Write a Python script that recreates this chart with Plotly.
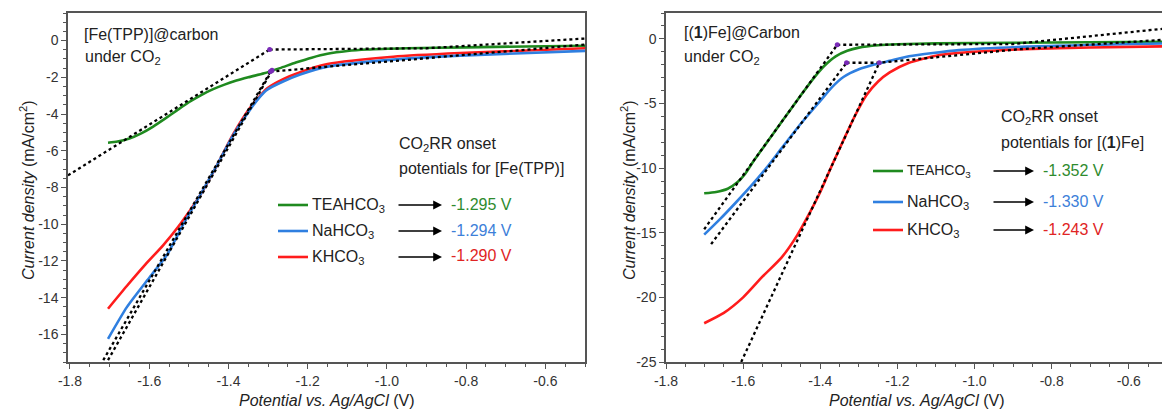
import plotly.graph_objects as go

W, H = 1162, 412

# ---------------- data: left panel  [Fe(TPP)]@carbon ----------------
left_tea_x = [-1.704, -1.68, -1.65, -1.62, -1.59, -1.56, -1.53, -1.50, -1.47, -1.44, -1.41,
              -1.38, -1.35, -1.31, -1.27, -1.23, -1.19, -1.15, -1.10, -1.05, -0.95, -0.80,
              -0.65, -0.499]
left_tea_y = [-5.56, -5.5, -5.33, -5.05, -4.68, -4.25, -3.8, -3.36, -2.98, -2.66, -2.4,
              -2.18, -2.0, -1.78, -1.5, -1.2, -0.93, -0.72, -0.57, -0.49, -0.42, -0.37,
              -0.32, -0.28]

left_na_x = [-1.704, -1.656, -1.598, -1.555, -1.514, -1.471, -1.428, -1.388, -1.345, -1.320,
             -1.302, -1.262, -1.219, -1.150, -0.984, -0.815, -0.499]
left_na_y = [-16.24, -14.50, -12.86, -11.66, -10.0, -8.4, -6.75, -5.15, -3.75, -3.05,
             -2.67, -2.23, -1.85, -1.42, -1.04, -0.82, -0.56]

left_k_x = [-1.704, -1.656, -1.61, -1.565, -1.522, -1.471, -1.428, -1.388, -1.345, -1.302,
            -1.262, -1.219, -1.150, -0.984, -0.815, -0.499]
left_k_y = [-14.60, -13.35, -12.2, -11.15, -10.0, -8.4, -6.75, -5.1, -3.65, -2.6,
            -2.1, -1.72, -1.28, -0.88, -0.68, -0.42]

# tangent / baseline construction lines (left)
left_tea_tan_x = [-1.805, -1.296]
left_tea_tan_y = [-7.34, -0.49]
left_tea_base_x = [-1.296, -0.90, -0.50]
left_tea_base_y = [-0.49, -0.42, 0.11]
left_na_tan_x = [-1.716, -1.294]
left_na_tan_y = [-17.4, -1.69]
left_k_tan_x = [-1.704, -1.290]
left_k_tan_y = [-17.4, -1.62]
left_low_base_x = [-1.294, -0.50]
left_low_base_y = [-1.69, -0.22]
left_onset_x = [-1.296, -1.294, -1.290]
left_onset_y = [-0.49, -1.69, -1.62]

# ---------------- data: right panel  [(1)Fe]@Carbon ----------------
right_tea_x = [-1.701, -1.67, -1.64, -1.615, -1.595, -1.575, -1.55, -1.50, -1.45, -1.42,
               -1.39, -1.36, -1.33, -1.30, -1.25, -1.20, -1.10, -0.90, -0.514]
right_tea_y = [-11.95, -11.85, -11.6, -11.1, -10.45, -9.55, -8.5, -6.42, -4.35, -3.15,
               -2.1, -1.35, -0.92, -0.68, -0.5, -0.42, -0.35, -0.3, -0.23]

right_na_x = [-1.701, -1.66, -1.62, -1.58, -1.54, -1.50, -1.45, -1.40, -1.37, -1.34,
              -1.30, -1.26, -1.22, -1.17, -1.04, -0.865, -0.514]
right_na_y = [-15.15, -13.95, -12.7, -11.4, -10.0, -8.45, -6.55, -4.8, -3.75, -2.95,
              -2.35, -1.98, -1.7, -1.35, -0.87, -0.6, -0.36]

right_k_x = [-1.701, -1.65, -1.60, -1.55, -1.50, -1.46, -1.43, -1.40, -1.37, -1.34,
             -1.31, -1.28, -1.25, -1.22, -1.17, -1.10, -1.0, -0.87, -0.7, -0.514]
right_k_y = [-22.0, -21.2, -20.0, -18.4, -16.9, -15.2, -13.6, -11.85, -9.8, -7.85,
             -5.95, -4.35, -3.3, -2.6, -1.85, -1.3, -1.0, -0.8, -0.67, -0.58]

right_tea_tan_x = [-1.701, -1.356]
right_tea_tan_y = [-14.73, -0.46]
right_tea_base_x = [-1.356, -0.90, -0.514]
right_tea_base_y = [-0.46, -0.40, 0.77]
right_na_tan_x = [-1.683, -1.332]
right_na_tan_y = [-15.88, -1.85]
right_k_tan_x = [-1.605, -1.247]
right_k_tan_y = [-25.0, -1.86]
right_low_base_x = [-1.332, -1.247, -0.883, -0.514]
right_low_base_y = [-1.85, -1.85, -0.80, -0.08]
right_onset_x = [-1.356, -1.332, -1.247]
right_onset_y = [-0.46, -1.85, -1.85]

# ticks
x_tick_vals = [-1.8, -1.6, -1.4, -1.2, -1.0, -0.8, -0.6]
left_y_tick_vals = [0, -2, -4, -6, -8, -10, -12, -14, -16]
right_y_tick_vals = [0, -5, -10, -15, -20, -25]

series_names = ["TEAHCO<sub>3</sub>", "NaHCO<sub>3</sub>", "KHCO<sub>3</sub>"]
left_onsets = ["-1.295 V", "-1.294 V", "-1.290 V"]
right_onsets = ["-1.352 V", "-1.330 V", "-1.243 V"]

GREEN = "#1f8a1f"
BLUE = "#2f7fe0"
RED = "#ff1c1c"
PURPLE = "#7a2bb8"
VAL_COLORS = ["#2e8b2e", "#3d7fd9", "#e02424"]
FONT = "Liberation Sans, Arial, sans-serif"
AX = "#555555"

fig = go.Figure()


def curve(x, y, color, xa, ya):
    fig.add_trace(go.Scatter(x=x, y=y, mode="lines", xaxis=xa, yaxis=ya,
                             line=dict(color=color, width=2.6, shape="spline", smoothing=0.6),
                             showlegend=False, hoverinfo="skip"))


def dotted(x, y, xa, ya):
    fig.add_trace(go.Scatter(x=x, y=y, mode="lines", xaxis=xa, yaxis=ya,
                             line=dict(color="black", width=2.3, dash="3px,3px"),
                             showlegend=False, hoverinfo="skip"))


# left panel
curve(left_tea_x, left_tea_y, GREEN, "x", "y")
curve(left_k_x, left_k_y, RED, "x", "y")
curve(left_na_x, left_na_y, BLUE, "x", "y")
for xs, ys in [(left_tea_tan_x, left_tea_tan_y), (left_tea_base_x, left_tea_base_y),
               (left_na_tan_x, left_na_tan_y), (left_k_tan_x, left_k_tan_y),
               (left_low_base_x, left_low_base_y)]:
    dotted(xs, ys, "x", "y")
fig.add_trace(go.Scatter(x=left_onset_x, y=left_onset_y, mode="markers", xaxis="x", yaxis="y",
                         marker=dict(color=PURPLE, size=5), showlegend=False, hoverinfo="skip"))

# right panel
curve(right_tea_x, right_tea_y, GREEN, "x2", "y2")
curve(right_na_x, right_na_y, BLUE, "x2", "y2")
curve(right_k_x, right_k_y, RED, "x2", "y2")
for xs, ys in [(right_tea_tan_x, right_tea_tan_y), (right_tea_base_x, right_tea_base_y),
               (right_na_tan_x, right_na_tan_y), (right_k_tan_x, right_k_tan_y),
               (right_low_base_x, right_low_base_y)]:
    dotted(xs, ys, "x2", "y2")
fig.add_trace(go.Scatter(x=right_onset_x, y=right_onset_y, mode="markers", xaxis="x2", yaxis="y2",
                         marker=dict(color=PURPLE, size=5), showlegend=False, hoverinfo="skip"))


def fmt(v):
    return f"{v:.1f}"


def xaxis_cfg(domain, rng):
    return dict(domain=domain, range=rng, showline=True, linecolor=AX, linewidth=1.5, mirror=True,
                ticks="outside", ticklen=5, tickwidth=1.3, tickcolor=AX,
                tickmode="array", tickvals=x_tick_vals, ticktext=[fmt(v) for v in x_tick_vals],
                minor=dict(tickmode="linear", tick0=-1.8, dtick=0.05, ticks="outside", ticklen=3,
                           tickwidth=1.2, tickcolor=AX, showgrid=False),
                showgrid=False, zeroline=False, automargin=False,
                tickfont=dict(family=FONT, size=14, color="#333"))


def yaxis_cfg(domain, rng, vals, minor_dt, mirror):
    return dict(domain=domain, range=rng, showline=True, linecolor=AX, linewidth=1.5, mirror=mirror,
                ticks="outside", ticklen=5, tickwidth=1.3, tickcolor=AX,
                tickmode="array", tickvals=vals, ticktext=[str(v) for v in vals],
                minor=dict(tickmode="linear", tick0=0, dtick=minor_dt, ticks="outside", ticklen=3,
                           tickwidth=1.2, tickcolor=AX, showgrid=False),
                showgrid=False, zeroline=False, automargin=False,
                tickfont=dict(family=FONT, size=14, color="#333"))


ydom = [1 - 362 / H, 1 - 13 / H]
fig.update_layout(
    width=W, height=H, margin=dict(l=0, r=0, t=0, b=0),
    paper_bgcolor="white", plot_bgcolor="white",
    font=dict(family=FONT, color="#222"),
    xaxis=dict(xaxis_cfg([68 / W, 585 / W], [-1.805, -0.5]), anchor="y"),
    yaxis=dict(yaxis_cfg(ydom, [-17.5, 1.5], left_y_tick_vals, 0.5, True), anchor="x"),
    xaxis2=dict(xaxis_cfg([666 / W, 1.0], [-1.8, -0.514]), anchor="y2"),
    yaxis2=dict(yaxis_cfg(ydom, [-25, 2], right_y_tick_vals, 1, False), anchor="x2"),
    showlegend=False,
)

ann = []
shapes = []


def px(x):
    return x / W


def py(y):
    return 1 - y / H


def text(x, y, t, size=16, anchor="left", color="#222", angle=0):
    ann.append(dict(x=px(x), y=py(y), xref="paper", yref="paper", text=t, showarrow=False,
                    xanchor=anchor, yanchor="middle", textangle=angle,
                    font=dict(family=FONT, size=size, color=color)))


# axis titles
text(326, 400, "<i>Potential vs. Ag/AgCl</i> (V)", anchor="center")
text(916, 400, "<i>Potential vs. Ag/AgCl</i> (V)", anchor="center")
text(27, 190, "<i>Current density</i> (mA/cm<sup>2</sup>)", anchor="center", angle=-90)
text(628, 190, "<i>Current density</i> (mA/cm<sup>2</sup>)", anchor="center", angle=-90)

# panel labels
text(82, 35, "[Fe(TPP)]@carbon")
text(83, 57, "under CO<sub>2</sub>")
text(682, 33, "[(<b>1</b>)Fe]@Carbon")
text(682, 57, "under CO<sub>2</sub>")

text(397, 145, "CO<sub>2</sub>RR onset")
text(397, 168, "potentials for [Fe(TPP)]")
text(999, 117, "CO<sub>2</sub>RR onset")
text(999, 143, "potentials for [(<b>1</b>)Fe]")

colors = [GREEN, BLUE, RED]


def legend_block(line_x0, line_x1, text_x, arr_x0, arr_x1, val_x, rows, onsets, sizes):
    for i, yv in enumerate(rows):
        shapes.append(dict(type="line", xref="paper", yref="paper",
                           x0=px(line_x0), x1=px(line_x1), y0=py(yv), y1=py(yv),
                           line=dict(color=colors[i], width=2.6)))
        text(text_x, yv, series_names[i], size=sizes[i])
        ann.append(dict(x=px(arr_x1), y=py(yv), xref="paper", yref="paper",
                        ax=-(arr_x1 - arr_x0), ay=0, axref="pixel", ayref="pixel",
                        text="", showarrow=True, arrowhead=2, arrowsize=1.1, arrowwidth=1.6,
                        arrowcolor="black"))
        text(val_x, yv - 1, onsets[i], color=VAL_COLORS[i])


legend_block(278, 308, 310, 397, 442, 449, [205, 231, 257], left_onsets, [16, 16, 16])
legend_block(873, 903, 905, 992, 1034, 1041, [171, 202, 230], right_onsets, [14, 16, 16])

fig.update_layout(annotations=ann, shapes=shapes)

fig.write_html("out.html")
